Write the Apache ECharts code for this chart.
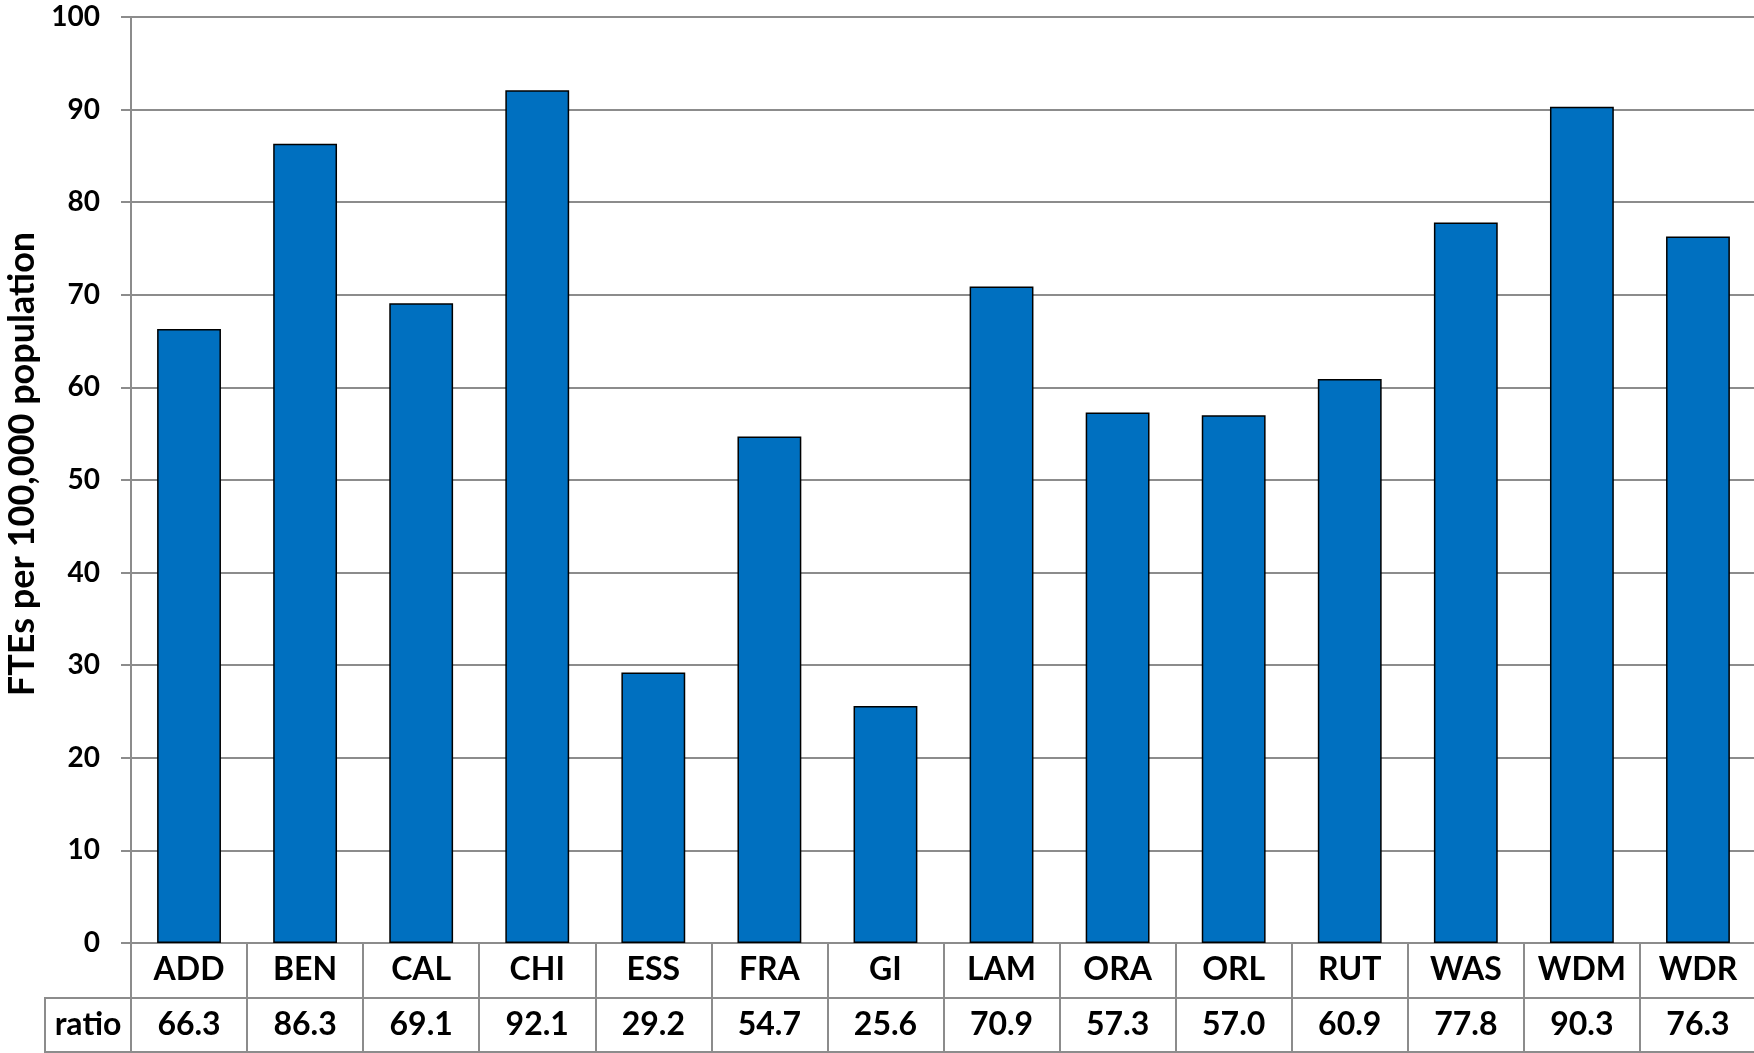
<!DOCTYPE html>
<html>
<head>
<meta charset="utf-8">
<script src="https://cdn.jsdelivr.net/npm/echarts@6/dist/echarts.min.js"></script>
<style>
  html, body { margin: 0; padding: 0; background: #ffffff; }
  #chart { width: 1754px; height: 1053px; }
</style>
</head>
<body>
<div id="chart"></div>
<script>
const categories = ['ADD', 'BEN', 'CAL', 'CHI', 'ESS', 'FRA', 'GI', 'LAM', 'ORA', 'ORL', 'RUT', 'WAS', 'WDM', 'WDR'];
const ratios = [66.3, 86.3, 69.1, 92.1, 29.2, 54.7, 25.6, 70.9, 57.3, 57.0, 60.9, 77.8, 90.3, 76.3];
const rowHeader = ['ratio'];
const yAxisTitle = 'FTEs per 100,000 population';

const FONT = 'Lato, "Open Sans", "Noto Sans", sans-serif';
const GRAY = '#8c8c8c';

const ratioLabels = ratios.map(v => v.toFixed(1));

const chart = echarts.init(document.getElementById('chart'), null, { renderer: 'canvas' });

const tableLabel = {
  show: true,
  inside: true,
  margin: 27,
  verticalAlign: 'middle',
  color: '#000',
  fontFamily: FONT,
  fontWeight: 'bold',
  fontSize: 32
};

const gridBase = { outerBoundsMode: 'none', containLabel: false };

chart.setOption({
  backgroundColor: '#ffffff',
  animation: false,
  grid: [
    Object.assign({ left: 131, right: -2, top: 17, height: 926 }, gridBase),
    Object.assign({ left: 131, right: -2, top: 943, height: 55, show: true, borderColor: GRAY, borderWidth: 2, backgroundColor: 'transparent' }, gridBase),
    Object.assign({ left: 131, right: -2, top: 998, height: 54, show: true, borderColor: GRAY, borderWidth: 2, backgroundColor: 'transparent' }, gridBase),
    Object.assign({ left: 45, width: 86, top: 998, height: 54, show: true, borderColor: GRAY, borderWidth: 2, backgroundColor: 'transparent' }, gridBase)
  ],
  xAxis: [
    {
      gridIndex: 0, type: 'category', data: categories,
      axisLine: { show: true, lineStyle: { color: GRAY, width: 2 } },
      axisTick: { show: false },
      axisLabel: { show: true, margin: 27, verticalAlign: 'middle', color: '#000', fontFamily: FONT, fontWeight: 'bold', fontSize: 32, interval: 0 },
      splitLine: { show: false }
    },
    {
      gridIndex: 1, type: 'category', data: categories,
      axisLine: { show: false }, axisTick: { show: false }, axisLabel: { show: false },
      splitLine: { show: true, interval: 0, lineStyle: { color: GRAY, width: 2 } }
    },
    {
      gridIndex: 2, type: 'category', data: ratioLabels, position: 'top',
      axisLine: { show: false }, axisTick: { show: false },
      axisLabel: Object.assign({ interval: 0 }, tableLabel),
      splitLine: { show: true, interval: 0, lineStyle: { color: GRAY, width: 2 } }
    },
    {
      gridIndex: 3, type: 'category', data: rowHeader, position: 'top',
      axisLine: { show: false }, axisTick: { show: false },
      axisLabel: Object.assign({ interval: 0 }, tableLabel),
      splitLine: { show: false }
    }
  ],
  yAxis: [
    {
      gridIndex: 0, type: 'value', min: 0, max: 100, interval: 10,
      name: yAxisTitle, nameLocation: 'middle', nameGap: 84,
      nameTextStyle: { color: '#000', fontFamily: FONT, fontWeight: 'bold', fontSize: 36, padding: [0, 0, 0, 32] },
      axisLine: { show: true, lineStyle: { color: GRAY, width: 2 } },
      axisTick: { show: true, length: 10, lineStyle: { color: GRAY, width: 2 } },
      axisLabel: { margin: 31, color: '#000', fontFamily: FONT, fontWeight: 'bold', fontSize: 28 },
      splitLine: { show: true, lineStyle: { color: GRAY, width: 2 } }
    },
    { gridIndex: 1, type: 'value', min: 0, max: 1, show: false },
    { gridIndex: 2, type: 'value', min: 0, max: 1, show: false },
    { gridIndex: 3, type: 'value', min: 0, max: 1, show: false }
  ],
  series: [
    {
      type: 'bar', xAxisIndex: 0, yAxisIndex: 0,
      data: ratios,
      barWidth: '55%',
      itemStyle: { color: '#0070C0', borderColor: '#000000', borderWidth: 1.5 }
    }
  ]
});
</script>
</body>
</html>
